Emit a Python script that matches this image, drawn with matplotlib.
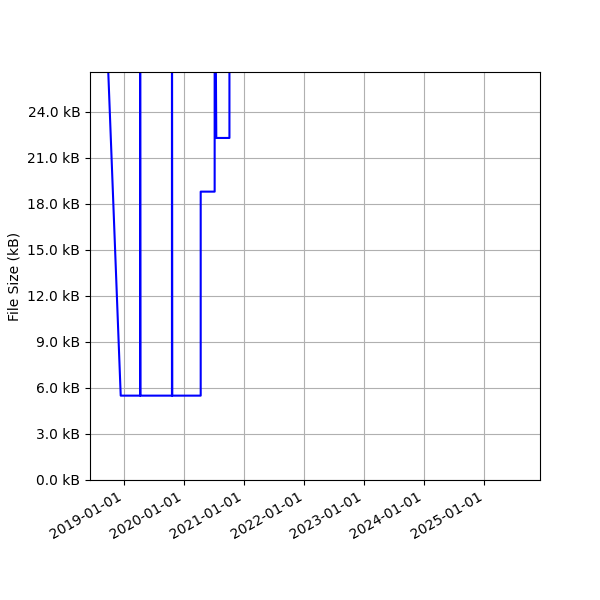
import matplotlib

matplotlib.use("Agg")
import matplotlib.dates as mdates
import matplotlib.pyplot as plt
import pandas as pd
from matplotlib.ticker import FuncFormatter, MultipleLocator

# file size history (kB)
dates = [
    "2018-09-22", "2018-12-10",
    "2019-04-07", "2019-04-07", "2019-04-09",
    "2019-10-18", "2019-10-18", "2019-10-20",
    "2020-04-10", "2020-04-10",
    "2020-07-04", "2020-07-04", "2020-07-14",
    "2020-10-02", "2020-10-02",
]
sizes_kb = [
    27.5, 5.5,
    5.5, 40.0, 5.5,
    5.5, 40.0, 5.5,
    5.5, 18.8,
    18.8, 40.0, 22.3,
    22.3, 40.0,
]
x_range = ["2018-06-06", "2025-12-06"]
y_top = 26.6

fig, ax = plt.subplots(figsize=(6, 6), dpi=100)
fig.subplots_adjust(left=0.15, right=0.9, top=0.88)

ax.plot(pd.to_datetime(dates), sizes_kb, color="blue", linewidth=1.5)

ax.set_xlim(pd.to_datetime(x_range[0]), pd.to_datetime(x_range[1]))
ax.set_ylim(0, y_top)
ax.xaxis.set_major_locator(mdates.YearLocator())
ax.xaxis.set_major_formatter(mdates.DateFormatter("%Y-%m-%d"))
ax.yaxis.set_major_locator(MultipleLocator(3))
ax.yaxis.set_major_formatter(FuncFormatter(lambda v, _: f"{v:.1f} kB"))
ax.set_ylabel("File Size (kB)")
ax.grid(True)

fig.autofmt_xdate()
fig.savefig("out.png", dpi=100)
